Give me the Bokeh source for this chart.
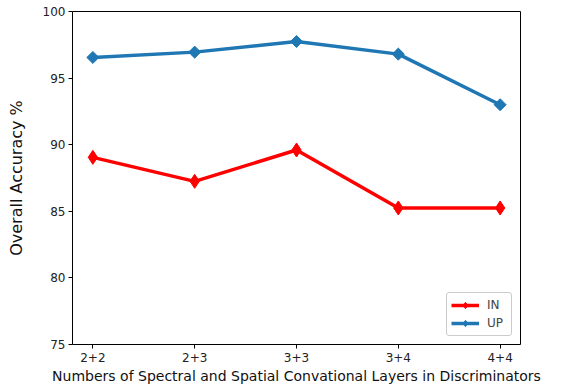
from bokeh.plotting import figure
from bokeh.models import FixedTicker, Range1d, Legend, LegendItem
from bokeh.embed import file_html
from bokeh.resources import INLINE
import numpy as np

categories = ["2+2", "2+3", "3+3", "3+4", "4+4"]
in_values = [89.05, 87.25, 89.6, 85.25, 85.25]
up_values = [96.55, 96.95, 97.75, 96.8, 93.0]
y_ticks = [75, 80, 85, 90, 95, 100]

xs = list(range(len(categories)))
FONT = "DejaVu Sans"

p = figure(width=563, height=386, output_backend="svg", toolbar_location=None,
           x_range=Range1d(-0.2, len(categories) - 1 + 0.2),
           y_range=Range1d(75, 100),
           min_border_left=72, min_border_top=11, min_border_right=43, min_border_bottom=42)

p.xgrid.visible = False
p.ygrid.visible = False
p.outline_line_color = "black"
p.outline_line_width = 1
p.outline_line_alpha = 1

p.xaxis.ticker = FixedTicker(ticks=xs)
p.xaxis.major_label_overrides = {i: c for i, c in enumerate(categories)}
p.yaxis.ticker = FixedTicker(ticks=y_ticks)
for ax in (p.xaxis[0], p.yaxis[0]):
    ax.axis_line_color = None
    ax.minor_tick_line_color = None
    ax.major_tick_in = 0
    ax.major_tick_out = 4
    ax.major_tick_line_color = "black"
    ax.major_label_text_font = FONT
    ax.major_label_text_font_size = "12px"
    ax.major_label_text_color = "#222222"
    ax.axis_label_text_font = FONT
    ax.axis_label_text_font_style = "normal"
    ax.axis_label_text_color = "#111111"

p.xaxis.axis_label = "Numbers of Spectral and Spatial Convational Layers in Discriminators"
p.xaxis.axis_label_text_font_size = "14px"
p.xaxis.axis_label_standoff = 3
p.xaxis.major_label_standoff = 4
p.yaxis.axis_label = "Overall Accuracy %"
p.yaxis.axis_label_text_font_size = "16px"
p.yaxis.axis_label_standoff = 14
p.yaxis.major_label_standoff = 3

red = "#ff0000"
blue = "#1f77b4"

l1 = p.line(xs, in_values, line_color=red, line_width=3.5)
s1 = p.scatter(xs, in_values, marker="diamond", size=14, fill_color=red, line_color=red)
l2 = p.line(xs, up_values, line_color=blue, line_width=3.5)
s2 = p.scatter(xs, up_values, marker="square", angle=np.pi / 4, size=8.5, fill_color=blue, line_color=blue)
s2_leg = p.scatter([np.nan], [np.nan], marker="diamond", size=14, fill_color=blue, line_color=blue)

legend = Legend(items=[LegendItem(label="IN", renderers=[l1, s1]),
                       LegendItem(label="UP", renderers=[l2, s2_leg])],
                location="bottom_right")
legend.label_text_font = FONT
legend.label_text_font_size = "12px"
legend.border_line_color = "#cccccc"
legend.border_line_alpha = 1
legend.border_radius = 3
legend.glyph_width = 28
legend.glyph_height = 16
legend.label_standoff = 8
legend.padding = 4
legend.spacing = 2
legend.margin = 8
p.add_layout(legend)

open("out.html", "w").write(file_html(p, INLINE))
